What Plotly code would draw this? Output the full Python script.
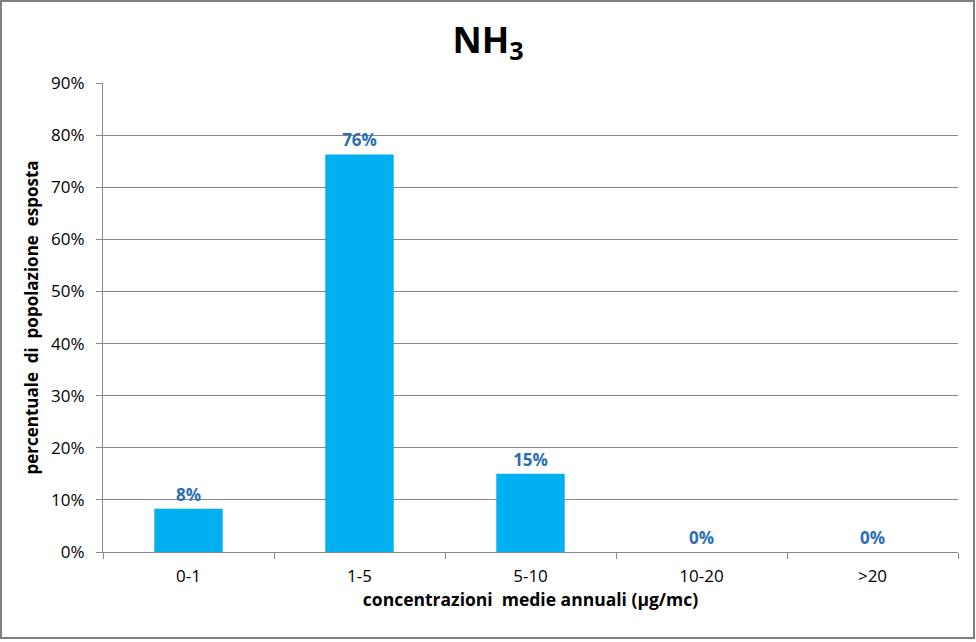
import plotly.graph_objects as go

categories = ["0-1", "1-5", "5-10", "10-20", ">20"]
values = [8.3, 76.3, 15.0, 0.0, 0.0]
value_labels = ["8%", "76%", "15%", "0%", "0%"]
y_ticks = [0, 10, 20, 30, 40, 50, 60, 70, 80, 90]
y_tick_labels = [f"{v}%" for v in y_ticks]

FONT = "Open Sans"
GRID = "#898989"

fig = go.Figure()
fig.add_trace(go.Bar(
    x=categories, y=values,
    marker=dict(color="#00B0F0", line=dict(width=0)),
    text=value_labels, textposition="outside",
    textfont=dict(family=FONT, size=17, color="#2A6EB5", weight="bold"),
    cliponaxis=False,
))
# invisible helper trace for the boundary-tick axis
n = len(categories)
boundaries = [i - 0.5 for i in range(n + 1)]
fig.add_trace(go.Scatter(x=[boundaries[0], boundaries[-1]], y=[0, 0], xaxis="x2",
                         mode="markers", marker=dict(opacity=0), hoverinfo="skip"))

W, H = 976, 642
AXIS_Y = 552          # pixel row of the value-axis zero line
LABEL_GAP = 12        # extra room between axis line and category labels
L, R, T, B = 103, 18, 83, H - AXIS_Y - LABEL_GAP
pw, ph = W - L - R, H - T - B

def px(x):
    return (x - L) / pw

def py(y):
    return (H - B - y) / ph

fig.update_layout(
    width=W, height=H,
    margin=dict(l=L, r=R, t=T, b=B),
    paper_bgcolor="white", plot_bgcolor="white",
    bargap=0.6,
    showlegend=False,
    font=dict(family=FONT, color="#000000"),
    title=dict(text="NH<sub>3</sub>", x=0.5, xref="container", xanchor="center",
               y=1 - 40 / H, yref="container", yanchor="middle",
               font=dict(family=FONT, size=36, color="#000000", weight="bold")),
    xaxis=dict(
        type="category",
        anchor="free", position=0,
        showgrid=False, showline=False, zeroline=False,
        ticks="",
        tickfont=dict(family=FONT, size=17, color="#000000"),
        title=dict(text="concentrazioni  medie annuali (µg/mc)", standoff=3,
                   font=dict(family=FONT, size=17.5, color="#000000", weight="bold")),
    ),
    xaxis2=dict(
        overlaying="x", anchor="y", side="bottom",
        range=[boundaries[0], boundaries[-1]],
        tickvals=boundaries, showticklabels=False,
        ticks="outside", ticklen=6, tickcolor=GRID,
        showgrid=False, zeroline=False,
        showline=True, linecolor=GRID, linewidth=1,
    ),
    yaxis=dict(
        domain=[LABEL_GAP / ph, 1],
        range=[0, 90],
        tickvals=y_ticks, ticktext=y_tick_labels,
        showgrid=True, gridcolor=GRID, gridwidth=1,
        showline=True, linecolor=GRID, linewidth=1,
        ticks="outside", ticklen=6, tickcolor=GRID,
        ticklabelstandoff=8,
        zeroline=False,
        tickfont=dict(family=FONT, size=17, color="#000000"),
        title=dict(text="percentuale  di  popolazione  esposta", standoff=8,
                   font=dict(family=FONT, size=17, color="#000000", weight="bold")),
    ),
    shapes=[dict(type="rect", xref="paper", yref="paper",
                 x0=px(1), x1=px(974), y0=py(638), y1=py(1),
                 line=dict(color="#808080", width=2), fillcolor="rgba(0,0,0,0)",
                 layer="below")],
)

fig.write_html("out.html", config={"displayModeBar": False},
               post_script="document.body.style.margin='0';document.body.style.padding='0';")
